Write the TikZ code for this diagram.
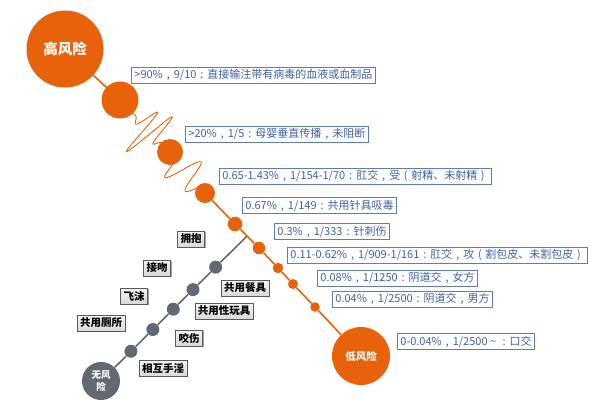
\documentclass[tikz,border=0pt]{standalone}
\usepackage{fontspec}
\newfontfamily\cjk{Noto Sans CJK SC}
\usepackage{xcolor}
\usepackage{tikz}
\usetikzlibrary{calc,shadows}
\definecolor{rorange}{RGB}{232,98,12}
\definecolor{ngray}{RGB}{98,105,115}
\definecolor{bline}{RGB}{92,124,190}
\definecolor{btext}{RGB}{62,96,162}
% centred full-width punctuation
\newcommand{\zc}{\makebox[1em]{,}}
\newcommand{\zk}{\makebox[1em]{:}}
\newcommand{\zl}{\makebox[1em]{(}}
\newcommand{\zr}{\makebox[1em]{)}}
\tikzset{
  odot/.style={circle, fill=rorange, inner sep=0pt},
  gdot/.style={circle, fill=ngray, inner sep=0pt, minimum size=13pt},
  bbox2/.style={draw=bline, line width=0.8pt, anchor=west, text=btext, font=\cjk\fontsize{11}{13}\selectfont, inner xsep=3pt, inner ysep=1.5pt, minimum height=16pt},
  gbox2/.style={draw=gray!70!black, top color=gray!8, bottom color=gray!30, font=\cjk\bfseries\fontsize{10.5}{12}\selectfont, inner xsep=3pt, inner ysep=1.5pt, minimum height=16pt, drop shadow={shadow xshift=1.2pt, shadow yshift=-1.2pt, opacity=0.6, fill=black!60}},
  oline/.style={draw=rorange, line width=1.6pt},
  gline/.style={draw=ngray, line width=1.6pt},
  owave/.style={draw=rorange, line width=0.9pt, line join=round}
}

\begin{document}
\begin{tikzpicture}[x=1pt, y=-1pt]
\useasboundingbox (0,0) rectangle (600,404);
% risk chain
\node[odot, minimum size=77pt, text=white, font=\cjk\bfseries\fontsize{14.5}{16}\selectfont] (r0) at (65,49) {高风险};
\node[odot, minimum size=37pt] (r1) at (120,100) {};
\node[odot, minimum size=26pt] (r2) at (170,152) {};
\node[odot, minimum size=20pt] (r3) at (205,193) {};
\node[odot, minimum size=14.5pt] (r4) at (235,224) {};
\node[odot, minimum size=12.5pt] (r5) at (259,248) {};
\node[odot, minimum size=10.5pt] (r6) at (278,268) {};
\node[odot, minimum size=10pt] (r7) at (293,284) {};
\node[odot, minimum size=9.5pt] (r8) at (315,307) {};
\node[odot, minimum size=58pt, text=white, font=\cjk\bfseries\fontsize{10.5}{12}\selectfont] (r9) at (361,356) {低风险};
% rates
\node[bbox2] (t1) at (131,75) {>90\%\zc{}9/10\zk{}直接输注带有病毒的血液或血制品};
\node[bbox2] (t2) at (185,134) {>20\%\zc{}1/5\zk{}母婴垂直传播\zc{}未阻断};
\node[bbox2] (t3) at (219,176) {0.65-1.43\%\zc{}1/154-1/70\zk{}肛交\zc{}受\zl{}射精、未射精\zr{}};
\node[bbox2] (t4) at (242,205.5) {0.67\%\zc{}1/149\zk{}共用针具吸毒};
\node[bbox2] (t5) at (274,231.5) {0.3\%\zc{}1/333\zk{}针刺伤};
\node[bbox2] (t6) at (287,255) {0.11-0.62\%\zc{}1/909-1/161\zk{}肛交\zc{}攻\zl{}割包皮、未割包皮\zr{}};
\node[bbox2] (t7) at (317,278) {0.08\%\zc{}1/1250\zk{}阴道交\zc{}女方};
\node[bbox2] (t8) at (332,299) {0.04\%\zc{}1/2500\zk{}阴道交\zc{}男方};
\node[bbox2] (t9) at (397,341.5) {0-0.04\%\zc{}1/2500\makebox[1em]{\textasciitilde}\zk{}口交};
% no risk
\node[gdot, minimum size=38pt, text=white, align=center, font=\cjk\bfseries\fontsize{9.5}{12}\selectfont] (g0) at (101,381) {无风\\险};
\coordinate (gj) at (247,236);
\node[gdot] (g1) at ($(g0)!0.205!(gj)$) {};
\node[gdot] (g2) at ($(g0)!0.355!(gj)$) {};
\node[gdot] (g3) at ($(g0)!0.495!(gj)$) {};
\node[gdot] (g4) at ($(g0)!0.63!(gj)$) {};
\node[gdot] (g5) at ($(g0)!0.785!(gj)$) {};
\node[gbox2] (a1) at (191,239) {拥抱};
\node[gbox2] (a2) at (157,268) {接吻};
\node[gbox2] (a3) at (134,296) {飞沫};
\node[gbox2] (a4) at (101,323) {共用厕所};
\node[gbox2] (a5) at (245,288) {共用餐具};
\node[gbox2] (a6) at (224,311) {共用性玩具};
\node[gbox2] (a7) at (189,338) {咬伤};
\node[gbox2] (a8) at (163,368) {相互手淫};
% connectors
\draw[gline] (g0) -- (g1);
\draw[gline] (g1) -- (g2);
\draw[gline] (g2) -- (g3);
\draw[gline] (g3) -- (g4);
\draw[gline] (g4) -- (g5);
\draw[gline] (g5) -- (gj);
\draw[oline] (r0) -- (r1);
\draw[owave] let \p1=(r1), \p2=(r2), \n1={veclen(\x2-\x1,\y2-\y1)} in
  plot[domain=0.22:0.83, samples=160, variable=\t]
  ({\x1+\t*(\x2-\x1)-32*sin(180*((\t-0.22)/0.61)^1.5)*sin(180*((\t-0.22)/0.61)^1.5)*sin(1770.5*(\t-0.22))*(\y2-\y1)/\n1},
   {\y1+\t*(\y2-\y1)+32*sin(180*((\t-0.22)/0.61)^1.5)*sin(180*((\t-0.22)/0.61)^1.5)*sin(1770.5*(\t-0.22))*(\x2-\x1)/\n1});
\draw[owave] let \p1=(r2), \p2=(r3), \n1={veclen(\x2-\x1,\y2-\y1)} in
  plot[domain=0.19:0.85, samples=120, variable=\t]
  ({\x1+\t*(\x2-\x1)+22*(1-0.682*(\t-0.19))*sin(818.18*(\t-0.19))*(\y2-\y1)/\n1},
   {\y1+\t*(\y2-\y1)-22*(1-0.682*(\t-0.19))*sin(818.18*(\t-0.19))*(\x2-\x1)/\n1});
\draw[oline] (r3) -- (r4);
\draw[oline] (r4) -- (r5);
\draw[oline] (r5) -- (r6);
\draw[oline] (r6) -- (r7);
\draw[oline] (r7) -- (r8);
\draw[oline] (r8) -- (r9);
\end{tikzpicture}
\end{document}
